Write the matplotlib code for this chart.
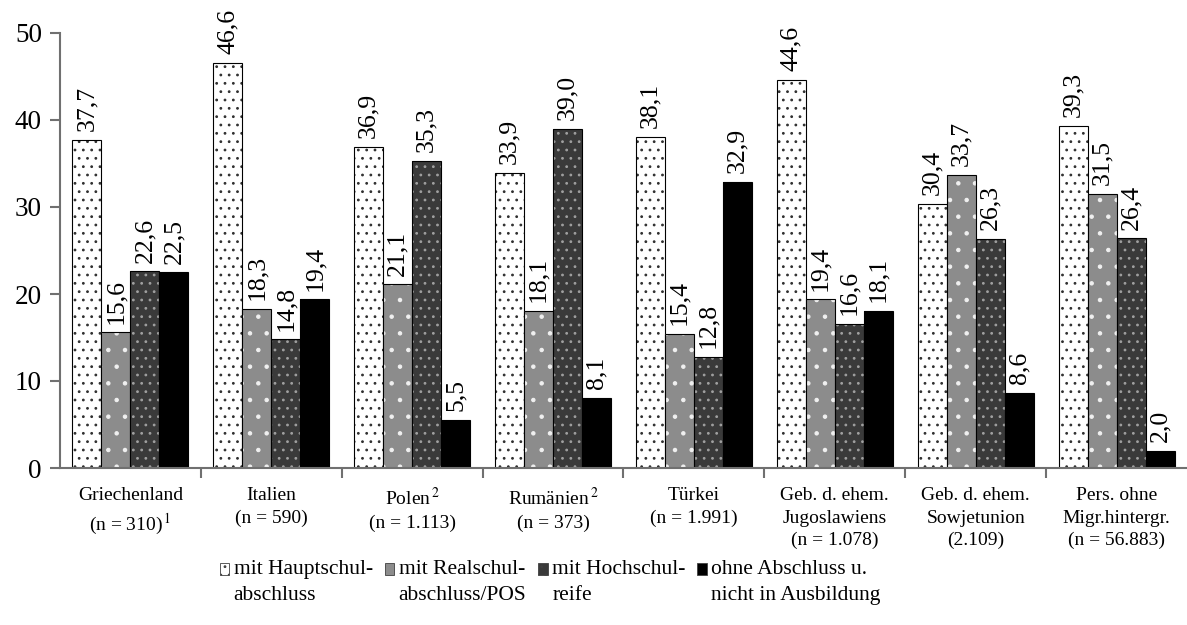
import matplotlib.pyplot as plt
from matplotlib.legend_handler import HandlerPatch
import numpy as np

plt.rcParams['font.family'] = 'Liberation Serif'
plt.rcParams['mathtext.fontset'] = 'stix'
plt.rcParams['hatch.linewidth'] = 0.8

# Daten
laender = ['Griechenland\n(n = 310)$^{\\,1}$', 'Italien\n(n = 590)', 'Polen$^{\\,2}$\n(n = 1.113)',
           'Rumänien$^{\\,2}$\n(n = 373)', 'Türkei\n(n = 1.991)', 'Geb. d. ehem.\nJugoslawiens\n(n = 1.078)',
           'Geb. d. ehem.\nSowjetunion\n(2.109)', 'Pers. ohne\nMigr.hintergr.\n(n = 56.883)']
hauptschule = [37.7, 46.6, 36.9, 33.9, 38.1, 44.6, 30.4, 39.3]
realschule = [15.6, 18.3, 21.1, 18.1, 15.4, 19.4, 33.7, 31.5]
hochschulreife = [22.6, 14.8, 35.3, 39.0, 12.8, 16.6, 26.3, 26.4]
ohne_abschluss = [22.5, 19.4, 5.5, 8.1, 32.9, 18.1, 8.6, 2.0]
serien_namen = ['mit Hauptschul-\nabschluss', 'mit Realschul-\nabschluss/POS',
                'mit Hochschul-\nreife', 'ohne Abschluss u.\nnicht in Ausbildung']

serien = [hauptschule, realschule, hochschulreife, ohne_abschluss]
# (Fuellfarbe, Schraffurfarbe, Schraffur)
stile = [('white', '#303030', '..'), ('#8c8c8c', '#f0f0f0', '.'),
         ('#3a3a3a', '#a0a0a0', '..'), ('black', 'black', None)]


def quadrat_oben(legend, orig_handle, xdescent, ydescent, width, height, fontsize):
    # Legendenkaestchen auf Hoehe der ersten Textzeile
    return plt.Rectangle((-xdescent, -ydescent + 0.6 * fontsize), width, height)


fig = plt.figure(figsize=(11.87, 6.25), dpi=100)
ax = fig.add_axes([0.0505, 0.2512, 0.9495, 0.696])

x = np.arange(len(laender))
w = 0.206
handles = []
for i, (werte, (fc, hc, hatch)) in enumerate(zip(serien, stile)):
    pos = x + (i - 1.5) * w
    ax.bar(pos, werte, w, color=fc, edgecolor=hc, hatch=hatch, linewidth=0)
    ax.bar(pos, werte, w, fill=False, edgecolor='black', linewidth=0.8)
    for p, v in zip(pos, werte):
        ax.text(p, v + 1.0, f'{v:.1f}'.replace('.', ','), rotation=90,
                ha='center', va='bottom', fontsize=18.5)
    h = plt.Rectangle((0, 0), 1, 1, facecolor=fc, edgecolor=hc, hatch=hatch, linewidth=0)
    handles.append(h)

ax.set_xlim(-0.5, len(laender) - 0.5)
ax.set_ylim(0, 50)
ax.set_yticks(range(0, 51, 10))
ax.tick_params(axis='y', labelsize=19.5, length=7, width=1.5, color='#707070', pad=6)
ax.set_xticks(x)
ax.set_xticklabels(laender, fontsize=14, linespacing=1.4)
ax.tick_params(axis='x', length=0, pad=14)
ax.set_xticks(np.arange(0.5, len(laender) - 1, 1), minor=True)
ax.tick_params(axis='x', which='minor', length=7, width=1.5, color='#707070')
ax.spines['top'].set_visible(False)
ax.spines['right'].set_visible(False)
for s in ['left', 'bottom']:
    ax.spines[s].set_color('#707070')
    ax.spines[s].set_linewidth(1.5)

leg = fig.legend(handles, serien_namen, loc='upper left', bbox_to_anchor=(0.185, 0.104),
                 ncol=4, frameon=False, fontsize=15.5, handlelength=0.45, handleheight=0.45,
                 handletextpad=0.2, columnspacing=0.55, labelspacing=0.0,
                 borderaxespad=0, borderpad=0,
                 handler_map={plt.Rectangle: HandlerPatch(patch_func=quadrat_oben)})
for t in leg.get_texts():
    t.set_linespacing(1.5)
for h in leg.legend_handles:
    h.set_edgecolor('#404040')
    h.set_linewidth(0.6)

fig.savefig('out.png', dpi=100)
